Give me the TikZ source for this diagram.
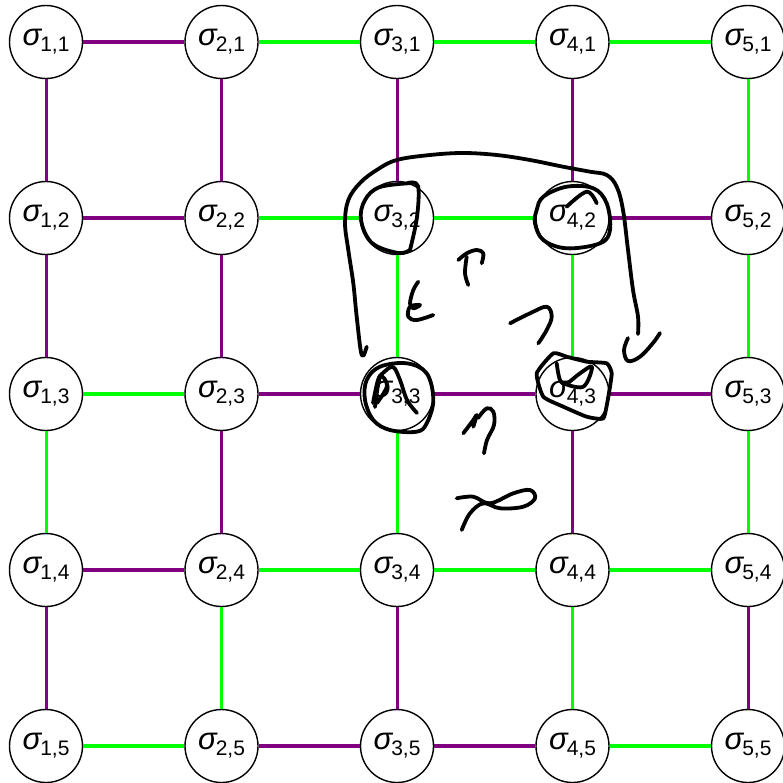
\documentclass[tikz,border=0pt]{standalone}
\usepackage{fontspec}
\setmainfont{Liberation Sans}
\definecolor{gr}{HTML}{00FF00}
\definecolor{pu}{HTML}{800080}
\newcommand{\siglab}[2]{{\fontsize{31}{31}\selectfont\itshape σ}\kern-1pt\raisebox{-6pt}{\fontsize{21}{21}\selectfont #1,#2}}
\tikzset{
  sig/.style={circle, draw=black, line width=1.4pt, fill=white, minimum size=73pt, inner sep=0pt},
  hedge/.style={line width=4.5pt},
  vedge/.style={line width=3pt},
  scrib/.style={draw=black, line width=3.8pt, line cap=round, line join=round}
}
\begin{document}
\begin{tikzpicture}[x=1pt,y=-1pt]
\useasboundingbox (0,0) rectangle (783,782);
% nodes
\foreach \i in {1,...,5}{
  \foreach \j in {1,...,5}{
    \node[sig] (n\i\j) at ({46+175.5*(\i-1)},{42+176*(\j-1)}) {\siglab{\i}{\j}};
  }
}
% horizontal edges
\foreach \i/\j/\c in {1/1/pu,2/1/gr,3/1/gr,4/1/gr,
                      1/2/pu,2/2/gr,3/2/gr,4/2/pu,
                      1/3/gr,2/3/pu,3/3/pu,4/3/pu,
                      1/4/pu,2/4/gr,3/4/gr,4/4/gr,
                      1/5/gr,2/5/pu,3/5/pu,4/5/gr}{
  \pgfmathtruncatemacro{\ii}{\i+1}
  \draw[hedge,draw=\c] (n\i\j) -- (n\ii\j);
}
% vertical edges
\foreach \i/\j/\c in {1/1/pu,1/2/pu,1/3/gr,1/4/pu,
                      2/1/pu,2/2/pu,2/3/pu,2/4/gr,
                      3/1/pu,3/2/gr,3/3/gr,3/4/pu,
                      4/1/pu,4/2/gr,4/3/pu,4/4/gr,
                      5/1/gr,5/2/gr,5/3/gr,5/4/pu}{
  \pgfmathtruncatemacro{\jj}{\j+1}
  \draw[vedge,draw=\c] (n\i\j) -- (n\i\jj);
}
% hand-drawn scribbles
\path[scrib] plot[smooth,tension=0.6] coordinates {(366.7,346.7) (361.7,355) (356.7,316.7) (353.3,283.3) (348.3,250) (345,223) (348.3,200) (360,183) (376.7,170) (396.7,160) (430,155) (463,153) (496.7,155) (530,160) (563,166.7) (590,171.7) (606.7,175) (616.7,186.7) (623,210) (628,250) (633,290) (638,316.7) (638,334)};
\path[scrib] plot[smooth,tension=0.6] coordinates {(628,338) (624,350) (628,361) (640,356.7) (653,343) (660,333)};
% sigma 3,2
\path[scrib] plot[smooth,tension=0.6] coordinates {(413,183) (380,187) (365,200) (361,220) (372,243) (398,253) (410,250)};
\path[scrib] plot[smooth,tension=0.6] coordinates {(408,183) (418,186) (417,217) (410,250)};
% sigma 4,2
\path[scrib] plot[smooth cycle,tension=0.6] coordinates {(536.7,210) (543.3,196.7) (566.7,186.7) (593.3,188.3) (606.7,203.3) (610,230) (600,243.3) (566.7,248.3) (543.3,240) (535,223.3)};
\path[scrib] plot[smooth,tension=0.6] coordinates {(566.7,206.7) (586.7,191.7) (596.7,203.3)};
% sigma 3,3
\path[scrib] plot[smooth cycle,tension=0.6] coordinates {(366.7,380) (380,366.7) (406.7,363.3) (426.7,373.3) (433.3,400) (426.7,423.3) (416.7,431.7) (390,430) (373.3,420) (365,400)};
\path[scrib] plot[smooth,tension=0.6] coordinates {(373,403) (378,380) (383,373) (393,367) (400,380) (407,400) (417,413)};
\path[scrib] plot[smooth,tension=0.6] coordinates {(375,407) (380,377) (387,386) (377,403)};
% sigma 4,3
\path[scrib] plot[smooth cycle,tension=0.3] coordinates {(536.7,373.3) (553.3,353.3) (566.7,356.7) (586.7,361.7) (606.7,363.3) (611.7,373.3) (608.3,396.7) (603.3,418.3) (586.7,416.7) (563.3,406.7) (543.3,396.7)};
\path[scrib] plot[smooth,tension=0.6] coordinates {(556.7,363.3) (560,380) (566.7,383.3) (580,373.3) (592,366.7) (583.3,386.7) (563.3,383.3)};
% marks
\path[scrib] plot[smooth,tension=0.6] coordinates {(418.3,281.7) (413.3,290) (410,303.3) (413.3,308.3) (420,305) (410,306.7) (408.3,316.7) (416.7,320) (433.3,315)};
\path[scrib] plot[smooth,tension=0.6] coordinates {(458.3,260) (466.7,253.3) (476.7,250) (483.3,253.3) (481.7,263.3)};
\path[scrib] plot[smooth,tension=0.6] coordinates {(466.7,256.7) (465,273.3) (468.3,285)};
\path[scrib] plot[smooth,tension=0.6] coordinates {(510,323.3) (530,313.3) (546.7,306.7) (551.7,316.7) (546.7,330) (538.3,343.3)};
\path[scrib] plot[smooth,tension=0.6] coordinates {(463.3,433.3) (473.3,420) (476.7,415) (473.3,426.7)};
\path[scrib] plot[smooth,tension=0.6] coordinates {(478,418) (486.7,408.3) (493.3,411.7) (494,425) (487,440) (484,453.3)};
\path[scrib] plot[smooth,tension=0.6] coordinates {(456.7,498.3) (473.3,496.7) (490,503.3) (513.3,493.3) (530,490) (535,498.3) (523.3,506.7) (500,508.3) (483.3,503.3) (470,513.3) (461.7,530)};
\end{tikzpicture}
\end{document}
